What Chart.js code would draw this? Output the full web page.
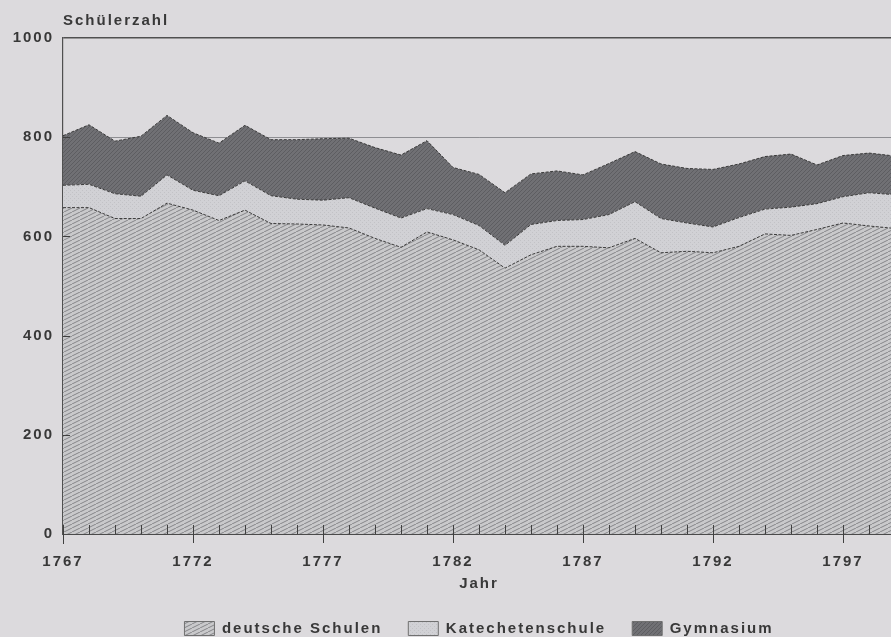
<!DOCTYPE html>
<html><head><meta charset="utf-8">
<script src="https://cdn.jsdelivr.net/npm/chart.js@4.4.1/dist/chart.umd.min.js"></script>
<style>
html,body{margin:0;padding:0;background:#dcdadd;overflow:hidden;width:891px;height:637px}
canvas{display:block}
</style>
</head><body>
<canvas id="c" width="895" height="646" style="width:895px;height:646px"></canvas>
<script>
// ---- data ----
const years = ['1767','1768','1769','1770','1771','1772','1773','1774','1775','1776','1777','1778','1779','1780','1781','1782','1783','1784','1785','1786','1787','1788','1789','1790','1791','1792','1793','1794','1795','1796','1797','1798','1799'];
const tickLabels = ['1767','1772','1777','1782','1787','1792','1797'];
const yTicks = [0,200,400,600,800,1000];
const seriesNames = ['deutsche Schulen','Katechetenschule','Gymnasium'];
const deutscheSchulen = [658,658,636,636,667,653,632,653,626,625,623,617,596,578,609,593,573,536,563,580,580,577,596,567,570,567,580,605,602,614,627,621,616];
const katechetenschule = [45,47,50,45,57,40,50,59,56,50,50,61,61,59,47,51,49,46,61,52,54,67,74,69,57,52,58,50,57,52,53,67,68];
const gymnasium = [100,120,106,121,120,116,106,112,113,120,124,120,122,127,137,95,103,106,102,100,90,103,101,110,110,116,108,106,107,78,83,80,78];

// ---- patterns ----
function hatch(base, line, w, h, draw){
  const cv = document.createElement('canvas'); cv.width = w; cv.height = h;
  const g = cv.getContext('2d');
  g.fillStyle = base; g.fillRect(0,0,w,h);
  g.strokeStyle = line; g.fillStyle = line; g.lineWidth = 1;
  draw(g,w,h);
  return document.getElementById('c').getContext('2d').createPattern(cv,'repeat');
}
const patDeutsch = hatch('#c9c9cb','#858589',8,4,(g,w,h)=>{
  g.beginPath(); g.moveTo(0,h); g.lineTo(w,0); g.moveTo(-w,h); g.lineTo(0,0); g.moveTo(w,h); g.lineTo(2*w,0); g.stroke();
});
const patKat = hatch('#d1d1d5','#c2c2c6',4,4,(g)=>{ g.fillRect(0,0,1,1); g.fillRect(2,2,1,1); });
const patGym = hatch('#707074','#5d5d61',4,4,(g,w,h)=>{
  g.beginPath(); g.moveTo(0,h); g.lineTo(w,0); g.stroke();
});

const FONT = 'Liberation Sans, Arial, Helvetica, sans-serif';
const TXT = '#383838';

const spacingPlugin = {
  id:'spacing',
  beforeUpdate(c){ c.ctx.letterSpacing = '2px'; },
  beforeLayout(c){ c.ctx.letterSpacing = '2px'; },
  beforeDraw(c){ c.ctx.letterSpacing = '2px'; }
};

const tickPlugin = {
  id:'ticks',
  afterDatasetsDraw(c){
    const {ctx, chartArea:a, scales:{x,y}} = c;
    ctx.save();
    ctx.strokeStyle = '#404040'; ctx.lineWidth = 1;
    ctx.beginPath();
    years.forEach((yr,i)=>{
      const px = Math.round(x.getPixelForValue(i)) + 0.5;
      const major = tickLabels.includes(yr);
      ctx.moveTo(px, a.bottom - 9);
      ctx.lineTo(px, major ? a.bottom + 9 : a.bottom);
    });
    yTicks.forEach(v=>{
      if (v === 0 || v === 1000) return;
      const py = Math.round(y.getPixelForValue(v)) + 0.5;
      ctx.moveTo(a.left, py); ctx.lineTo(a.left + 7, py);
    });
    ctx.moveTo(a.left + 0.5, a.bottom); ctx.lineTo(a.left + 0.5, a.bottom + 10);
    ctx.stroke();
    ctx.restore();
  }
};

const edge = {borderColor:'#3a3a3a', borderWidth:1, borderDash:[3,1.5], pointRadius:0, tension:0};

new Chart(document.getElementById('c'), {
  type:'line',
  data:{
    labels: years,
    datasets:[
      Object.assign({label:seriesNames[0], data:deutscheSchulen, backgroundColor:patDeutsch, fill:'origin'}, edge),
      Object.assign({label:seriesNames[1], data:katechetenschule, backgroundColor:patKat, fill:'-1'}, edge),
      Object.assign({label:seriesNames[2], data:gymnasium, backgroundColor:patGym, fill:'-1'}, edge)
    ]
  },
  options:{
    responsive:false,
    devicePixelRatio:1,
    animation:false,
    layout:{padding:0},
    plugins:{
      tooltip:{enabled:false},
      title:{
        display:true, text:'Schülerzahl', align:'start', fullSize:false,
        padding:{top:12,bottom:8}, color:TXT,
        font:{family:FONT, size:15, weight:'bold', lineHeight:1.2}
      },
      legend:{
        position:'bottom', fullSize:false,
        labels:{
          boxWidth:30, boxHeight:14, padding:26, color:TXT,
          font:{family:FONT, size:15, weight:'bold'},
          generateLabels(chart){
            const items = Chart.defaults.plugins.legend.labels.generateLabels(chart);
            items.forEach(it=>{ it.lineDash=[]; it.strokeStyle='#707070'; it.lineWidth=1; });
            return items;
          }
        }
      }
    },
    scales:{
      x:{
        type:'category',
        grid:{display:false, drawTicks:false},
        border:{display:true, color:'#4a4a4a', dash:[3,2], width:1},
        ticks:{
          autoSkip:false, maxRotation:0, minRotation:0, padding:19, color:TXT,
          font:{family:FONT, size:15, weight:'bold'},
          callback:(v,i)=> tickLabels.includes(years[i]) ? years[i] : ''
        },
        title:{display:true, text:'Jahr', color:TXT, padding:{top:0,bottom:2},
          font:{family:FONT, size:15, weight:'bold'}},
        afterFit:(s)=>{ s.height = 61; s.paddingLeft = 0; s.paddingRight = 0; }
      },
      y:{
        stacked:true, min:0, max:1000,
        grid:{
          drawTicks:false,
          color:(ctx)=> ctx.tick && ctx.tick.value === 1000 ? '#505050' : '#8e8e92',
          lineWidth:(ctx)=> ctx.tick && ctx.tick.value === 1000 ? 1.6 : 1
        },
        border:{display:true, color:'#505050', width:1.2},
        ticks:{stepSize:200, padding:9, color:TXT, font:{family:FONT, size:15, weight:'bold'},
          callback:(v)=> String(v)},
        afterFit:(s)=>{ s.width = 63; }
      }
    }
  },
  plugins:[spacingPlugin, tickPlugin]
});
</script>
</body></html>
